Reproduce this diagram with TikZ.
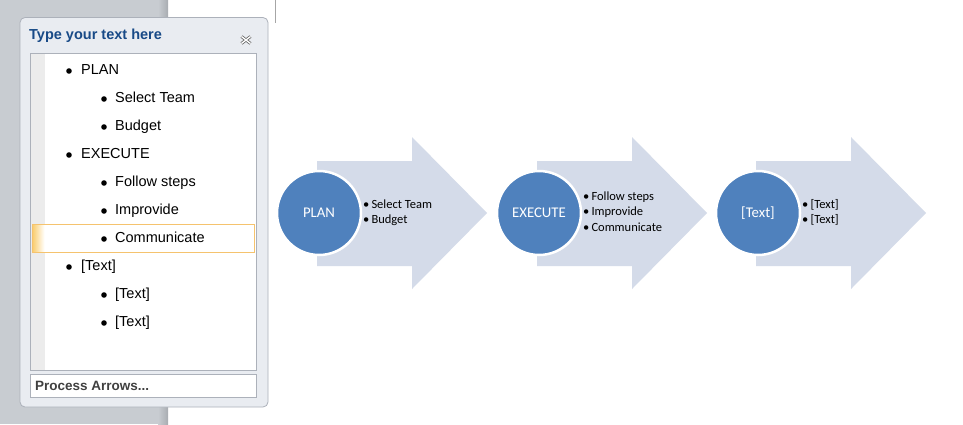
\documentclass[tikz,border=0pt]{standalone}
\usepackage{fontspec}
\setmainfont{Liberation Sans}
\newfontfamily\carlitofont{Carlito}
\definecolor{bggray}{RGB}{200,204,209}
\definecolor{bgdark}{RGB}{168,172,177}
\definecolor{panelfill}{RGB}{233,236,241}
\definecolor{panelline}{RGB}{172,177,186}
\definecolor{titleblue}{RGB}{24,74,135}
\definecolor{stripe}{RGB}{236,236,236}
\definecolor{hlorange}{RGB}{245,195,110}
\definecolor{hlfill}{RGB}{250,205,110}
\definecolor{circblue}{RGB}{79,129,189}
\definecolor{arrowfill}{RGB}{212,219,233}
\definecolor{darktext}{RGB}{64,64,64}
\tikzset{
  listitem/.style={anchor=west, inner sep=0pt, font=\fontsize{14.5}{16}\selectfont, text height=10.5pt, text depth=3pt},
  listdot/.style={fill=black, circle, inner sep=0pt, minimum size=5.6pt},
  arrowshape/.style={fill=arrowfill, draw=none},
  stepcircle/.style={circle, fill=circblue, draw=white, line width=2.5pt, minimum size=84pt, inner sep=0pt, text=white, font=\carlitofont\fontsize{14.8}{16}\selectfont},
  bulletline/.style={anchor=west, inner sep=0pt, font=\carlitofont\fontsize{12.5}{14}\selectfont, text height=8.5pt, text depth=2.5pt}
}
\begin{document}
\begin{tikzpicture}[x=1pt,y=-1pt]
\useasboundingbox (0,0) rectangle (963,424);
\fill[white] (0,0) rectangle (963,424);
% left gray area
\fill[bggray] (0,0) rectangle (160,424);
\shade[left color=bggray, right color=bgdark] (158,0) rectangle (168,424);
% page edge at top
\draw[gray!70, line width=0.8pt] (275,0) -- (275,23);
% panel
\draw[panelline, fill=panelfill, rounded corners=5pt, line width=0.8pt] (20,17.5) rectangle (268,407);
\node[anchor=west, inner sep=0pt, text=titleblue, font=\bfseries\fontsize{14.5}{16}\selectfont] (title) at (29,36) {Type your text here};
% close icon
\coordinate (closeicon) at (246,40);
\draw[gray!85!black, line width=3pt] (241.5,36.5) -- (250.5,43.5) (241.5,43.5) -- (250.5,36.5);
\draw[white, line width=1.3pt] (241.5,36.5) -- (250.5,43.5) (241.5,43.5) -- (250.5,36.5);
% inner list box
\draw[panelline, fill=white, line width=0.8pt] (30.5,53.5) rectangle (256.5,370);
\fill[stripe] (31,54) rectangle (44.5,369.5);
% highlight row
\fill[white] (32.5,224.5) rectangle (254.5,252.5);
\shade[left color=hlfill, right color=white] (32.5,224.5) rectangle (44.5,252.5);
\draw[hlorange, line width=0.8pt] (32.5,224.5) rectangle (254.5,252.5);
% list entries
\node[listdot] (d1) at (69,71) {};   \node[listitem] (t1) at (81,71) {PLAN};
\node[listdot] (d2) at (104,99) {};  \node[listitem] (t2) at (115,99) {Select Team};
\node[listdot] (d3) at (104,127) {}; \node[listitem] (t3) at (115,127) {Budget};
\node[listdot] (d4) at (69,155) {};  \node[listitem] (t4) at (81,155) {EXECUTE};
\node[listdot] (d5) at (104,183) {}; \node[listitem] (t5) at (115,183) {Follow steps};
\node[listdot] (d6) at (104,211) {}; \node[listitem] (t6) at (115,211) {Improvide};
\node[listdot] (d7) at (104,239) {}; \node[listitem] (t7) at (115,239) {Communicate};
\node[listdot] (d8) at (69,267) {};  \node[listitem] (t8) at (81,267) {[Text]};
\node[listdot] (d9) at (104,295) {}; \node[listitem] (t9) at (115,295) {[Text]};
\node[listdot] (d10) at (104,323) {};\node[listitem] (t10) at (115,323) {[Text]};
% bottom box
\draw[panelline, fill=white, line width=0.8pt] (30.5,374) rectangle (256.5,397);
\node[anchor=west, inner sep=0pt, text=darktext, font=\bfseries\fontsize{13.5}{15}\selectfont] (proc) at (35,385.5) {Process Arrows...};
% arrows
\foreach \dx in {0,220,439}{
  \fill[arrowshape] (317+\dx,161) -- (412+\dx,161) -- (412+\dx,137) -- (487+\dx,213)
     -- (412+\dx,289) -- (412+\dx,266) -- (317+\dx,266) -- cycle;
}
\node[stepcircle] (c1) at (319,213) {PLAN};
\node[stepcircle] (c2) at (539,213) {EXECUTE};
\node[stepcircle] (c3) at (758,213) {[Text]};
% bullet texts
\node[bulletline] (b11) at (363,205) {\textbullet\,Select Team};
\node[bulletline] (b12) at (363,220) {\textbullet\,Budget};
\node[bulletline] (b21) at (583,197) {\textbullet\,Follow steps};
\node[bulletline] (b22) at (583,212) {\textbullet\,Improvide};
\node[bulletline] (b23) at (583,228) {\textbullet\,Communicate};
\node[bulletline] (b31) at (802,205) {\textbullet\,[Text]};
\node[bulletline] (b32) at (802,220) {\textbullet\,[Text]};
\end{tikzpicture}
\end{document}
